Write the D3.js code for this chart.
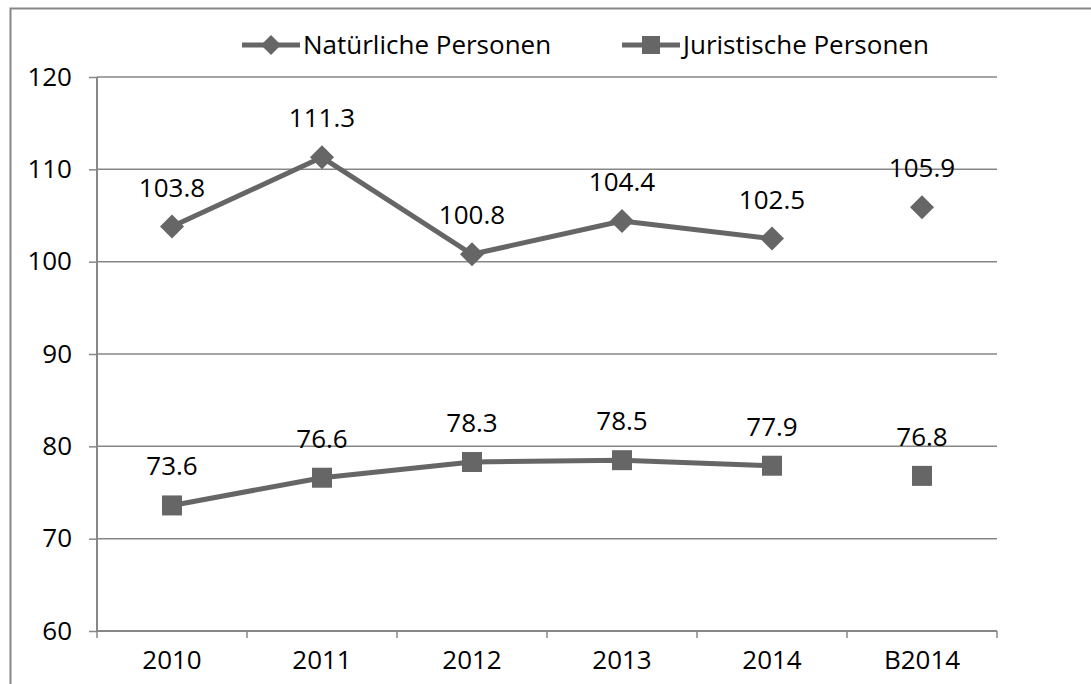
<!DOCTYPE html>
<html><head><meta charset="utf-8">
<script src="https://cdn.jsdelivr.net/npm/d3@7"></script>
<style>body{margin:0;background:#fff;} svg{display:block;font-family:"Open Sans",sans-serif;}</style>
</head><body><svg id="c" width="1091" height="684"></svg>
<script>
const categories = ["2010","2011","2012","2013","2014","B2014"];
const natuerliche = [103.8,111.3,100.8,104.4,102.5,105.9];
const juristische = [73.6,76.6,78.3,78.5,77.9,76.8];
const seriesNames = ["Natürliche Personen","Juristische Personen"];
const yTicks = [60,70,80,90,100,110,120];

const svg = d3.select("#c");
const W=1091,H=684;
const m={l:97,r:997,t:77,b:631};
const x=d3.scaleBand().domain(categories).range([m.l,m.r]);
const y=d3.scaleLinear().domain([60,120]).range([m.b,m.t]);
const grey="#878787", lineC="#666666";
const fs=26;

// outer border
svg.append("path").attr("d",`M10.5,${H} L10.5,8.5 L${W},8.5`).attr("fill","none").attr("stroke",grey).attr("stroke-width",2);

// gridlines
svg.append("g").selectAll("line").data(yTicks.filter(d=>d>60)).join("line")
 .attr("x1",m.l).attr("x2",m.r).attr("y1",d=>y(d)).attr("y2",d=>y(d))
 .attr("stroke",grey).attr("stroke-width",1.5);

// y axis
const ya=svg.append("g").attr("transform",`translate(${m.l},0)`).call(d3.axisLeft(y).tickValues(yTicks).tickSize(8).tickPadding(17));
ya.select(".domain").attr("stroke",grey).attr("stroke-width",2).attr("d",`M0,${m.t}V${m.b}`);
ya.selectAll(".tick line").attr("stroke",grey).attr("stroke-width",1.5);
ya.selectAll("text").attr("font-size",fs).attr("font-family","Open Sans").attr("fill","#000");

// x axis
const xa=svg.append("g").attr("transform",`translate(0,${m.b})`).call(d3.axisBottom(x).tickSize(0).tickPadding(20));
xa.select(".domain").attr("stroke",grey).attr("stroke-width",2).attr("d",`M${m.l},0H${m.r}`);
xa.selectAll("text").attr("font-size",fs).attr("font-family","Open Sans").attr("fill","#000");
const bounds=categories.map(c=>x(c)).concat([m.r]);
xa.selectAll(".bt").data(bounds).join("line").attr("class","bt")
 .attr("x1",d=>d).attr("x2",d=>d).attr("y1",0).attr("y2",7).attr("stroke",grey).attr("stroke-width",1.5);

const cx=c=>x(c)+x.bandwidth()/2;
const line=d3.line().x(d=>cx(d.c)).y(d=>y(d.v));

function series(vals, shape){
  const pts=categories.map((c,i)=>({c,v:vals[i]}));
  svg.append("path").datum(pts.slice(0,5)).attr("d",line).attr("fill","none")
    .attr("stroke",lineC).attr("stroke-width",5).attr("stroke-linejoin","round");
  svg.append("g").selectAll("path").data(pts).join("path")
    .attr("transform",d=>`translate(${cx(d.c)},${y(d.v)})`)
    .attr("d",shape==="d"?"M0,-12L12,0L0,12L-12,0Z":"M-10,-10H10V10H-10Z").attr("fill",lineC);
  svg.append("g").selectAll("text").data(pts).join("text")
    .attr("x",d=>cx(d.c)).attr("y",d=>y(d.v)-30).attr("text-anchor","middle")
    .attr("font-size",fs).attr("fill","#000").text(d=>d.v.toFixed(1));
}
series(natuerliche,"d");
series(juristische,"s");

// legend
const leg=[{name:seriesNames[0],x0:242,shape:"d"},{name:seriesNames[1],x0:622,shape:"s"}];
const lg=svg.append("g").selectAll("g").data(leg).join("g").attr("transform",d=>`translate(${d.x0},45)`);
lg.append("line").attr("x1",0).attr("x2",58).attr("stroke",lineC).attr("stroke-width",5);
lg.append("path").attr("transform","translate(29,0)").attr("d",d=>d.shape==="d"?"M0,-10L10,0L0,10L-10,0Z":"M-9,-9H9V9H-9Z").attr("fill",lineC);
lg.append("text").attr("x",61).attr("y",9).attr("font-size",fs).attr("fill","#000").text(d=>d.name);
</script></body></html>
